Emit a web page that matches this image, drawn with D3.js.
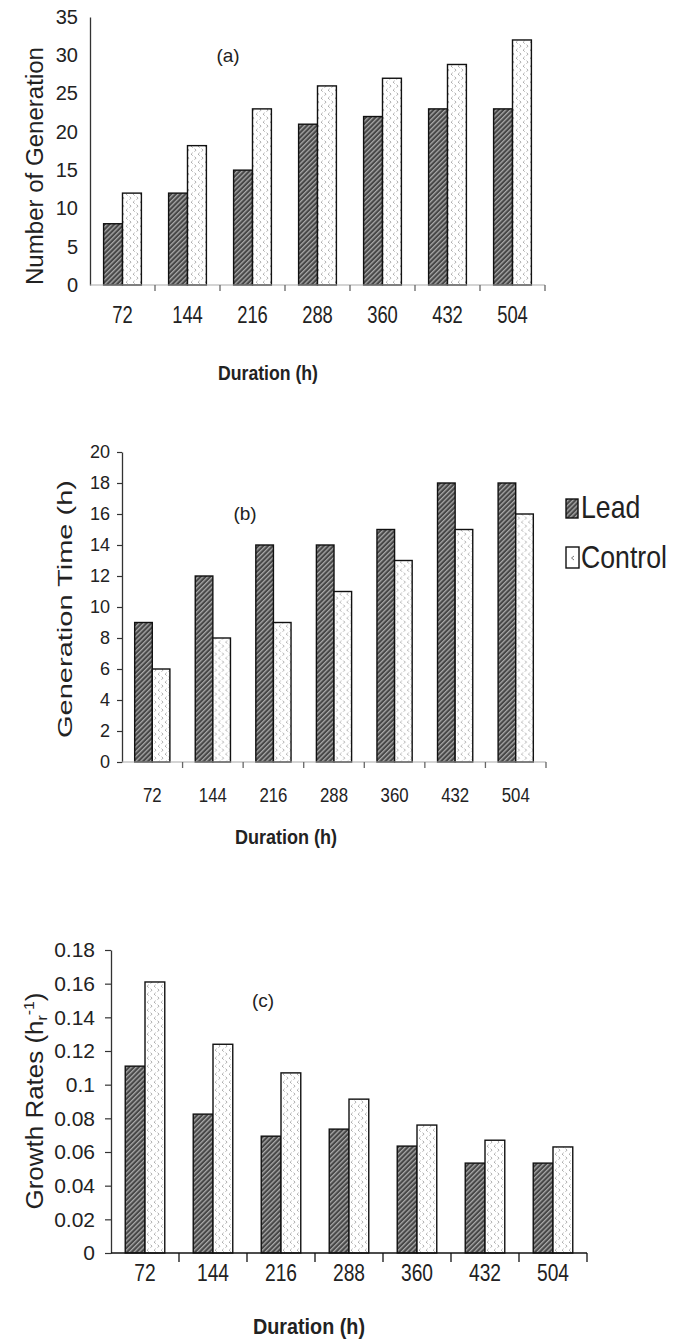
<!DOCTYPE html>
<html><head><meta charset="utf-8">
<script src="https://cdn.jsdelivr.net/npm/d3@7"></script>
<style>body{margin:0;background:#fff}svg{display:block}text{font-family:"Liberation Sans",Arial,sans-serif;fill:#222}</style>
</head><body><div id="chart"></div>
<script>
// ---- data ----
const durations = ["72","144","216","288","360","432","504"];
const seriesNames = ["Lead","Control"];
const genLead    = [8, 12, 15, 21, 22, 23, 23];
const genControl = [12, 18.2, 23, 26, 27, 28.8, 32];
const timeLead    = [9, 12, 14, 14, 15, 18, 18];
const timeControl = [6, 8, 9, 11, 13, 15, 16];
const rateLead    = [0.111, 0.0825, 0.0694, 0.0736, 0.0635, 0.0534, 0.0534];
const rateControl = [0.161, 0.124, 0.107, 0.0914, 0.076, 0.067, 0.063];
const genTicks  = [0,5,10,15,20,25,30,35];
const timeTicks = [0,2,4,6,8,10,12,14,16,18,20];
const rateTicks = [0,0.02,0.04,0.06,0.08,0.1,0.12,0.14,0.16,0.18];

const W = 688, H = 1341;
const svg = d3.select("#chart").append("svg").attr("width", W).attr("height", H);
const defs = svg.append("defs");

// hatch pattern (Lead)
const ph = defs.append("pattern").attr("id","hatch").attr("patternUnits","userSpaceOnUse")
  .attr("width",3.4).attr("height",3.4).attr("patternTransform","rotate(45)");
ph.append("rect").attr("width",3.4).attr("height",3.4).attr("fill","#474747");
ph.append("rect").attr("width",1.3).attr("height",3.4).attr("fill","#a9a9a9");
// dotted pattern (Control)
const pc = defs.append("pattern").attr("id","dots").attr("patternUnits","userSpaceOnUse")
  .attr("width",7).attr("height",8);
pc.append("rect").attr("width",7).attr("height",8).attr("fill","#fff");
pc.append("path").attr("d","M2.6,0.8 L1.2,2.2 L2.6,3.6").attr("fill","none").attr("stroke","#999").attr("stroke-width",0.9);
pc.append("path").attr("d","M4.6,4.8 L6,6.2 L4.6,7.6").attr("fill","none").attr("stroke","#999").attr("stroke-width",0.9);

function condText(g, x, y, str, size, sx, opts = {}) {
  const t = g.append("text")
    .attr("transform", `translate(${x},${y}) scale(${sx},1)`)
    .attr("text-anchor", opts.anchor || "middle")
    .attr("font-size", size)
    .attr("font-weight", opts.bold ? "bold" : "normal")
    .text(str);
  return t;
}

function panel(cfg) {
  const g = svg.append("g");
  const x0 = d3.scaleBand().domain(durations).range([cfg.left, cfg.right]).paddingInner(0).paddingOuter(0);
  const x1 = d3.scaleBand().domain(seriesNames).range([0, x0.bandwidth()]).paddingInner(0).paddingOuter(0.72);
  const y = d3.scaleLinear().domain([0, cfg.ymax]).range([cfg.bottom, cfg.top]);

  // y axis
  const ya = g.append("g").attr("transform", `translate(${cfg.left},0)`)
    .call(d3.axisLeft(y).tickValues(cfg.ticks).tickSize(cfg.tickSize).tickSizeOuter(0)
      .tickPadding(cfg.tickPad).tickFormat(d => String(+d.toFixed(2))));
  ya.select(".domain").attr("stroke", "#333").attr("stroke-width", 1.3);
  ya.selectAll(".tick line").attr("stroke", "#333").attr("stroke-width", 1.2);
  ya.selectAll(".tick text").attr("font-size", cfg.yFont).attr("font-family", '"Liberation Sans",Arial,sans-serif').attr("fill", "#222");

  // bars
  const data = durations.map((d, i) => ({d, vals: [cfg.lead[i], cfg.control[i]]}));
  const grp = g.selectAll(".grp").data(data).enter().append("g")
    .attr("transform", d => `translate(${x0(d.d)},0)`);
  grp.selectAll("rect").data(d => d.vals.map((v, j) => ({s: seriesNames[j], v})))
    .enter().append("rect")
    .attr("x", d => x1(d.s))
    .attr("y", d => y(d.v))
    .attr("width", x1.bandwidth())
    .attr("height", d => y(0) - y(d.v))
    .attr("fill", d => d.s === "Lead" ? "url(#hatch)" : "url(#dots)")
    .attr("stroke", "#111").attr("stroke-width", 1.4);

  // x axis line and boundary ticks
  g.append("line").attr("x1", cfg.left).attr("x2", cfg.right).attr("y1", cfg.bottom).attr("y2", cfg.bottom)
    .attr("stroke", cfg.xColor).attr("stroke-width", cfg.xWidth);
  const bounds = durations.slice(1).map(d => x0(d)).concat([cfg.right]);
  g.selectAll(".bt").data(bounds).enter().append("line")
    .attr("x1", d => d).attr("x2", d => d)
    .attr("y1", cfg.bottom).attr("y2", cfg.bottom + cfg.xTick)
    .attr("stroke", cfg.xTickColor).attr("stroke-width", 1.3);

  // x tick labels
  durations.forEach(d => {
    condText(g, x0(d) + x0.bandwidth() / 2, cfg.labelY, d, cfg.xFont, cfg.xScale);
  });
  // x title
  g.append("text").attr("x", cfg.titleX).attr("y", cfg.titleY).attr("text-anchor", "middle")
    .attr("font-size", cfg.titleFont).attr("font-weight", "bold")
    .attr("textLength", cfg.titleLen).attr("lengthAdjust", "spacingAndGlyphs")
    .text("Duration (h)");
  // panel label
  g.append("text").attr("x", cfg.tagX).attr("y", cfg.tagY).attr("text-anchor", "middle")
    .attr("dy", "0.35em").attr("font-size", 19).text(cfg.tag);
  return g;
}

panel({left: 90, right: 545, top: 17, bottom: 285, ymax: 35, ticks: genTicks,
  lead: genLead, control: genControl, tickSize: 0, tickPad: 12, yFont: 20,
  xColor: "#aaa", xWidth: 1.2, xTick: 6, xTickColor: "#666",
  labelY: 323, xFont: 23, xScale: 0.8,
  titleX: 268, titleY: 380, titleFont: 21, titleLen: 100,
  tag: "(a)", tagX: 228, tagY: 55});

panel({left: 122, right: 546, top: 452, bottom: 762, ymax: 20, ticks: timeTicks,
  lead: timeLead, control: timeControl, tickSize: 5, tickPad: 7, yFont: 18,
  xColor: "#aaa", xWidth: 1.2, xTick: 6, xTickColor: "#666",
  labelY: 802, xFont: 21, xScale: 0.8,
  titleX: 286, titleY: 844, titleFont: 21, titleLen: 102,
  tag: "(b)", tagX: 245, tagY: 513});

panel({left: 111, right: 587, top: 950, bottom: 1253, ymax: 0.18, ticks: rateTicks,
  lead: rateLead, control: rateControl, tickSize: 6, tickPad: 10, yFont: 21,
  xColor: "#111", xWidth: 1.4, xTick: 9, xTickColor: "#111",
  labelY: 1281, xFont: 24, xScale: 0.8,
  titleX: 309, titleY: 1334, titleFont: 22, titleLen: 112,
  tag: "(c)", tagX: 263, tagY: 1000});

// y titles
function yTitle(cx, cy, size, len) {
  return svg.append("text").attr("transform", `translate(${cx},${cy}) rotate(-90)`)
    .attr("text-anchor", "middle").attr("dy", "0.35em").attr("font-size", size)
    .attr("textLength", len).attr("lengthAdjust", "spacingAndGlyphs");
}
yTitle(35, 166, 23, 238).text("Number of Generation");
yTitle(65, 609, 21, 258).text("Generation Time (h)");
const t3 = yTitle(35, 1101, 23, 217);
t3.append("tspan").text("Growth Rates (h");
t3.append("tspan").attr("font-size", 14).attr("dy", 4).text("r");
t3.append("tspan").attr("font-size", 14).attr("dy", -13).text("-1");
t3.append("tspan").attr("dy", 9).text(")");

// legend
const lg = svg.append("g");
lg.append("rect").attr("x", 566).attr("y", 499).attr("width", 12).attr("height", 19)
  .attr("fill", "url(#hatch)").attr("stroke", "#111").attr("stroke-width", 1.4);
lg.append("rect").attr("x", 566).attr("y", 547).attr("width", 13).attr("height", 21)
  .attr("fill", "#fff").attr("stroke", "#111").attr("stroke-width", 1.4);
lg.append("path").attr("d", "M574,556 L571.5,558 L574,560").attr("fill", "none").attr("stroke", "#777").attr("stroke-width", 1);
condText(lg, 581, 518, seriesNames[0], 31, 0.86, {anchor: "start"});
condText(lg, 581, 568, seriesNames[1], 31, 0.86, {anchor: "start"});
</script></body></html>
